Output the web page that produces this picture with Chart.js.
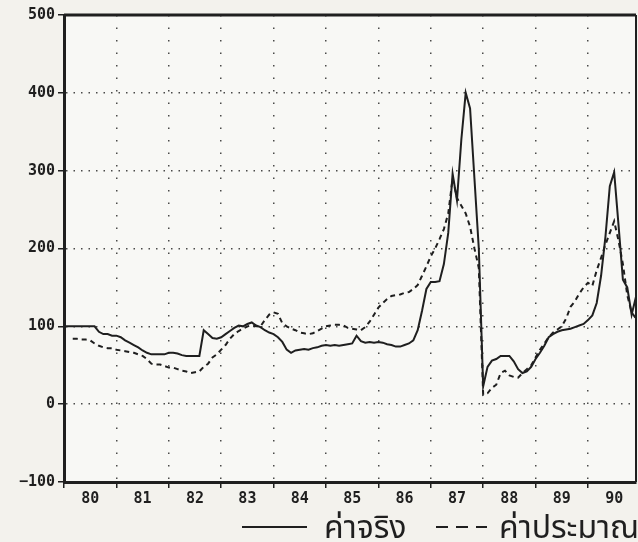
<!DOCTYPE html>
<html>
<head>
<meta charset="utf-8">
<script src="https://cdn.jsdelivr.net/npm/chart.js@4/dist/chart.umd.min.js"></script>
<style>
  html, body { margin: 0; padding: 0; }
  body { width: 638px; height: 542px; overflow: hidden; background: #f3f2ed; }
  canvas { display: block; }
</style>
</head>
<body>
<canvas id="chart" width="700" height="542"></canvas>
<script>
// monthly series, Jan 1980 onwards
const startYear = 1980;
const yearLabels = ['80', '81', '82', '83', '84', '85', '86', '87', '88', '89', '90'];
const yTicks = [-100, 0, 100, 200, 300, 400, 500];

const actual = [
    100, 100, 100, 100, 100, 100, 100, 100, 93, 90, 90, 88,
    88, 86, 82, 79, 76, 73, 69, 66, 64, 64, 64, 64,
    66, 66, 65, 63, 62, 62, 62, 62, 95, 90, 85, 84,
    86, 90, 94, 98, 101, 100, 103, 105, 101, 99, 95, 92,
    90, 86, 80, 70, 66, 69, 70, 71, 70, 72, 73, 75,
    76, 75, 76, 75, 76, 77, 78, 88, 81, 79, 80, 79,
    80, 79, 77, 76, 74, 74, 76, 78, 82, 95, 120, 148,
    157, 157, 158, 180, 220, 296, 262, 340, 400, 380, 290, 200,
    23, 48, 56, 58, 62, 62, 62, 55, 45, 40, 42, 48,
    58, 66, 75, 86, 90, 93, 95, 96, 97, 99, 101, 103,
    108, 114, 130, 165, 215, 280, 298, 230, 160, 150, 115, 138
];

const estimate = [
    null, null, 84, 84, 83, 83, 82, 78, 75, 73, 72, 72,
    70, 69, 68, 67, 66, 64, 62, 58, 52, 51, 51, 49,
    47, 47, 45, 43, 42, 40, 41, 42, 48, 52, 60, 64,
    70, 76, 84, 90, 94, 97, 100, 101, 100, 100, 108, 115,
    118, 116, 104, 100, 97, 95, 92, 91, 90, 91, 94, 97,
    100, 101, 102, 102, 101, 98, 97, 96, 95, 99, 106, 115,
    124, 130, 135, 139, 140, 141, 143, 144, 148, 153, 165, 177,
    190, 200, 212, 225, 245, 290, 265, 255, 245, 228, 200, 175,
    12, 14, 21, 25, 40, 43, 37, 35, 34, 40, 45, 50,
    60, 70, 78, 86, 92, 96, 100, 110, 125, 132, 142, 150,
    156, 152, 172, 188, 205, 220, 235, 210, 180, 140, 118, 110
];

const seriesNames = ['ค่าจริง', 'ค่าประมาณ'];

const toPoints = values => values.map((v, i) => ({ x: startYear + i / 12, y: v }));

const xMin = startYear;
const xMax = startYear + (actual.length - 1) / 12;

const ink = '#1f1f1f';
const dotColor = '#4a4a4a';
const tickFont = { family: '"DejaVu Sans Mono", "Liberation Mono", monospace', size: 15, weight: 'bold' };
const thaiFont = '32px "Noto Sans Thai", "Noto Sans", "DejaVu Sans", sans-serif';

// top and right edges of the frame
const framePlugin = {
    id: 'frame',
    afterDraw(chart) {
        const { ctx, chartArea: a } = chart;
        ctx.save();
        ctx.strokeStyle = ink;
        ctx.lineWidth = 3;
        ctx.beginPath();
        ctx.moveTo(a.left, a.top);
        ctx.lineTo(a.right, a.top);
        ctx.stroke();
        ctx.lineWidth = 2;
        ctx.beginPath();
        ctx.moveTo(a.right, a.top);
        ctx.lineTo(a.right, a.bottom);
        ctx.stroke();
        ctx.restore();
    }
};

const backgroundPlugin = {
    id: 'paper',
    beforeDraw(chart) {
        const { ctx, chartArea: a } = chart;
        ctx.save();
        ctx.fillStyle = '#f3f2ed';
        ctx.fillRect(0, 0, chart.width, chart.height);
        ctx.fillStyle = '#f8f8f5';
        ctx.fillRect(a.left, a.top, a.right - a.left, a.bottom - a.top);
        ctx.restore();
    }
};

// legend line under the axis, from the dataset labels
const legendPlugin = {
    id: 'bottomLegend',
    afterDraw(chart) {
        const { ctx } = chart;
        const items = [
            { ds: chart.data.datasets[0], x0: 242, x1: 307, tx: 324, dash: [] },
            { ds: chart.data.datasets[1], x0: 436, x1: 487, tx: 499, dash: [12, 8] }
        ];
        ctx.save();
        ctx.font = thaiFont;
        ctx.fillStyle = ink;
        ctx.textBaseline = 'alphabetic';
        items.forEach(it => {
            ctx.strokeStyle = ink;
            ctx.lineWidth = 2;
            ctx.setLineDash(it.dash);
            ctx.beginPath();
            ctx.moveTo(it.x0, 527);
            ctx.lineTo(it.x1, 527);
            ctx.stroke();
            ctx.setLineDash([]);
            ctx.fillText(it.ds.label, it.tx, 538);
        });
        ctx.restore();
    }
};

new Chart(document.getElementById('chart'), {
    type: 'line',
    data: {
        datasets: [
            {
                label: seriesNames[0],
                data: toPoints(actual),
                borderColor: ink,
                borderWidth: 2,
                pointRadius: 0,
                tension: 0
            },
            {
                label: seriesNames[1],
                data: toPoints(estimate),
                borderColor: ink,
                borderWidth: 2,
                borderDash: [5, 4],
                pointRadius: 0,
                tension: 0
            }
        ]
    },
    options: {
        responsive: false,
        animation: false,
        layout: { padding: { left: 0, top: 15, right: 64, bottom: 30 } },
        plugins: {
            legend: { display: false },
            tooltip: { enabled: false },
            title: { display: false }
        },
        scales: {
            x: {
                type: 'linear',
                position: 'bottom',
                weight: 0,
                min: xMin,
                max: xMax,
                afterBuildTicks: scale => {
                    scale.ticks = yearLabels.map((_, i) => ({ value: startYear + i }));
                },
                afterFit: scale => { scale.height = 6; },
                ticks: { display: false },
                grid: {
                    color: ctx => (ctx.tick && ctx.tick.value === startYear) ? 'rgba(0,0,0,0)' : dotColor,
                    lineWidth: 1.5,
                    drawTicks: true,
                    tickLength: 6,
                    tickColor: ink,
                    tickWidth: 1.5
                },
                border: { display: true, color: ink, width: 3, dash: [1.5, 11] }
            },
            xl: {
                type: 'linear',
                position: 'bottom',
                weight: 1,
                min: xMin,
                max: xMax,
                afterBuildTicks: scale => {
                    scale.ticks = yearLabels.map((_, i) => ({ value: startYear + i + 0.5 }));
                },
                afterFit: scale => { scale.height = 24; },
                ticks: {
                    autoSkip: false,
                    maxRotation: 0,
                    padding: 2,
                    color: ink,
                    font: tickFont,
                    callback: (value, index) => yearLabels[index]
                },
                grid: { display: false, drawTicks: false },
                border: { display: false }
            },
            y: {
                min: -100,
                max: 500,
                afterBuildTicks: scale => {
                    scale.ticks = yTicks.map(v => ({ value: v }));
                },
                afterFit: scale => { scale.width = 64; },
                ticks: {
                    padding: 3,
                    color: ink,
                    font: tickFont,
                    callback: v => (v < 0 ? '\u2212' + Math.abs(v) : String(v))
                },
                grid: {
                    color: ctx => (ctx.tick && (ctx.tick.value === -100 || ctx.tick.value === 500)) ? 'rgba(0,0,0,0)' : dotColor,
                    lineWidth: 1.5,
                    drawTicks: true,
                    tickLength: 6,
                    tickColor: ink,
                    tickWidth: 1.5
                },
                border: { display: true, color: ink, width: 3, dash: [1.5, 6] }
            }
        }
    },
    plugins: [backgroundPlugin, framePlugin, legendPlugin]
});
</script>
</body>
</html>
